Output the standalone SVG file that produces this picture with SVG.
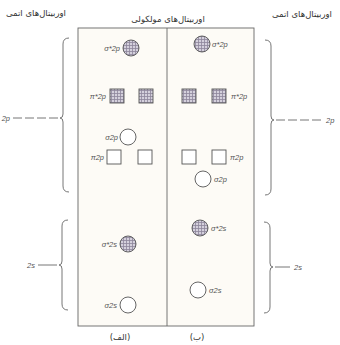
<svg xmlns="http://www.w3.org/2000/svg" width="340" height="345" viewBox="0 0 340 345">
<defs>
<pattern id="hatch" width="3" height="3" patternUnits="userSpaceOnUse">
<rect width="3" height="3" fill="#d4d0dc"/>
<path d="M0 0.5H3M0.5 0V3" stroke="#8e879c" stroke-width="0.8"/>
</pattern>
<style>
.lbl{font-family:"Liberation Sans",Arial,sans-serif;font-size:7.5px;fill:#555;font-style:italic}
.fa{font-family:"DejaVu Sans","Noto Sans",sans-serif;font-size:8.5px;fill:#333}
.orb{stroke:#555;stroke-width:0.9}
.e{fill:#fff}
.f{fill:url(#hatch)}
.br{fill:none;stroke:#666;stroke-width:0.9}
.dash{stroke:#666;stroke-width:0.9;stroke-dasharray:9 3}
.ln{stroke:#666;stroke-width:0.9}
</style>
</defs>
<rect width="340" height="345" fill="#fff"/>

<g id="headers">
<text class="fa" x="36" y="16" text-anchor="middle">اوربیتال‌های اتمی</text>
<text class="fa" x="168" y="22" text-anchor="middle">اوربیتال‌های مولکولی</text>
<text class="fa" x="302" y="17" text-anchor="middle">اوربیتال‌های اتمی</text>
</g>

<g id="frame">
<rect x="78" y="28" width="176" height="298" fill="#fdfbf6" stroke="#666" stroke-width="0.9"/>
<line x1="167" y1="28" x2="167" y2="326" stroke="#666" stroke-width="0.9"/>
</g>

<g id="panel-a">
<g id="a-sigma-star-2p"><circle class="orb f" cx="131" cy="48" r="8"/><text class="lbl" x="120" y="51" text-anchor="end">σ*2p</text></g>
<g id="a-pi-star-2p"><rect class="orb f" x="110" y="89" width="14" height="14"/><rect class="orb f" x="139" y="89" width="14" height="14"/><text class="lbl" x="106" y="99" text-anchor="end">π*2p</text></g>
<g id="a-sigma-2p"><circle class="orb e" cx="128" cy="137" r="8"/><text class="lbl" x="118" y="140" text-anchor="end">σ2p</text></g>
<g id="a-pi-2p"><rect class="orb e" x="107" y="150" width="14" height="14"/><rect class="orb e" x="138" y="150" width="14" height="14"/><text class="lbl" x="104" y="160" text-anchor="end">π2p</text></g>
<g id="a-sigma-star-2s"><circle class="orb f" cx="128" cy="244" r="8"/><text class="lbl" x="117" y="247" text-anchor="end">σ*2s</text></g>
<g id="a-sigma-2s"><circle class="orb e" cx="128" cy="305" r="8"/><text class="lbl" x="117" y="308" text-anchor="end">σ2s</text></g>
<text class="fa" x="120" y="340" text-anchor="middle">(الف)</text>
</g>

<g id="panel-b">
<g id="b-sigma-star-2p"><circle class="orb f" cx="202" cy="44" r="8"/><text class="lbl" x="212" y="47">σ*2p</text></g>
<g id="b-pi-star-2p"><rect class="orb f" x="182" y="89" width="14" height="14"/><rect class="orb f" x="212" y="89" width="14" height="14"/><text class="lbl" x="231" y="99">π*2p</text></g>
<g id="b-pi-2p"><rect class="orb e" x="182" y="150" width="14" height="14"/><rect class="orb e" x="212" y="150" width="14" height="14"/><text class="lbl" x="230" y="160">π2p</text></g>
<g id="b-sigma-2p"><circle class="orb e" cx="203" cy="179" r="8"/><text class="lbl" x="214" y="182">σ2p</text></g>
<g id="b-sigma-star-2s"><circle class="orb f" cx="200" cy="228" r="8"/><text class="lbl" x="211" y="231">σ*2s</text></g>
<g id="b-sigma-2s"><circle class="orb e" cx="198" cy="290" r="8"/><text class="lbl" x="209" y="293">σ2s</text></g>
<text class="fa" x="197" y="340" text-anchor="middle">(ب)</text>
</g>

<g id="connectors">
<path class="br" d="M69 38 Q63 38 63 44 V114 Q63 118 60 118 Q63 118 63 122 V186 Q63 192 69 192"/>
<line class="dash" x1="13" y1="118" x2="59" y2="118"/>
<text class="lbl" x="10" y="121" text-anchor="end">2p</text>
<path class="br" d="M68 220 Q62 220 62 226 V261 Q62 265 59 265 Q62 265 62 269 V304 Q62 310 68 310"/>
<line class="ln" x1="38" y1="265" x2="57" y2="265"/>
<text class="lbl" x="35" y="268" text-anchor="end">2s</text>
<path class="br" d="M265 40 Q271 40 271 46 V116 Q271 120 274 120 Q271 120 271 124 V189 Q271 195 265 195"/>
<line class="dash" x1="276" y1="120" x2="323" y2="120"/>
<text class="lbl" x="326" y="123">2p</text>
<path class="br" d="M264 222 Q270 222 270 228 V263 Q270 267 273 267 Q270 267 270 271 V307 Q270 313 264 313"/>
<line class="ln" x1="275" y1="267" x2="290" y2="267"/>
<text class="lbl" x="294" y="270">2s</text>
</g>
</svg>
